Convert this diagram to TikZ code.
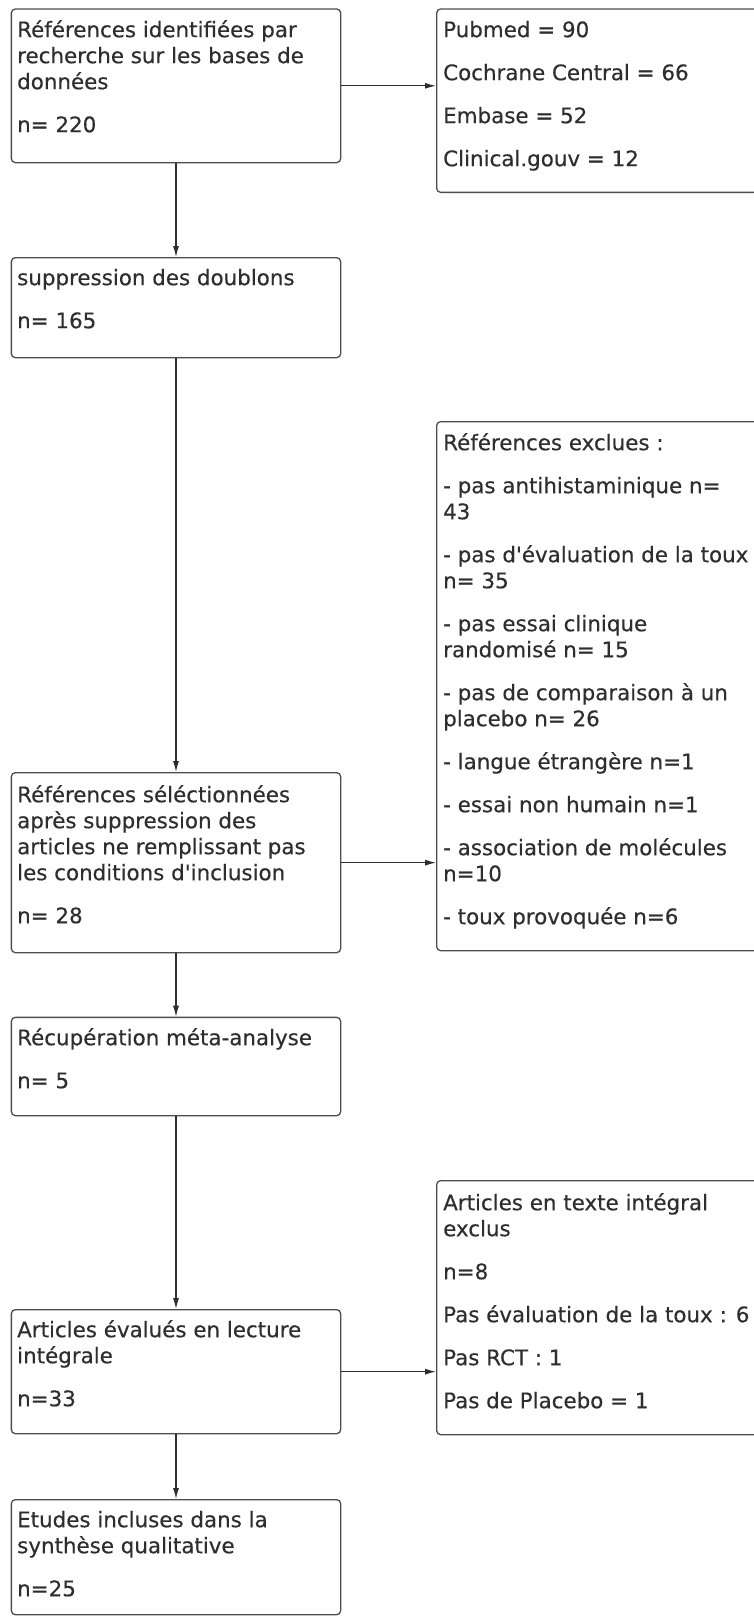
\documentclass[tikz,border=0pt]{standalone}
\usepackage{fontspec}
\newfontfamily\dv{DejaVu Sans}[FakeBold=0.35]
\usetikzlibrary{arrows.meta}
\definecolor{boxgray}{HTML}{4D4D4D}
\definecolor{linegray}{HTML}{2E2E2E}
\definecolor{textgray}{HTML}{2E2E2E}
\newcommand\fs{\rule{0pt}{20pt}}
\tikzset{
 box/.style={draw=boxgray, line width=1.3pt, rounded corners=4pt, inner sep=0pt, anchor=north west},
 txt/.style={anchor=north west, inner sep=0pt, align=left, text=textgray, font=\dv\fontsize{21.4}{26}\selectfont},
 arr/.style={draw=linegray, line width=1.1pt, -{Latex[length=11pt,width=6pt]}},
}
\begin{document}
\begin{tikzpicture}[x=1pt,y=-1pt]
\useasboundingbox[fill=white] (0,0) rectangle (753,1618);
% left column boxes
\node[box, minimum width=329.3pt, minimum height=153.7pt] (b1) at (10.7,8.3) {};
\node[box, minimum width=329.3pt, minimum height=100pt] (b2) at (10.7,257) {};
\node[box, minimum width=329.3pt, minimum height=180pt] (b4) at (10.7,772) {};
\node[box, minimum width=329.3pt, minimum height=98.3pt] (b5) at (10.7,1016.7) {};
\node[box, minimum width=329.3pt, minimum height=124pt] (b7) at (10.7,1309) {};
\node[box, minimum width=329.3pt, minimum height=115pt] (b8) at (10.7,1499) {};
% right column boxes
\node[box, minimum width=330pt, minimum height=183.4pt] (r1) at (436,8.3) {};
\node[box, minimum width=330pt, minimum height=529pt] (r3) at (436,421) {};
\node[box, minimum width=330pt, minimum height=254pt] (r6) at (436,1180) {};
% texts
\node[txt] (t1) at (17,17) {\fs Références identifiées par\\recherche sur les bases de\\données\\[17pt]n= 220};
\node[txt] (t2) at (17,265) {\fs suppression des doublons\\[17pt]n= 165};
\node[txt] (t4) at (17,782) {\fs Références séléctionnées\\après suppression des\\articles ne remplissant pas\\les conditions d'inclusion\\[17pt]n= 28};
\node[txt] (t5) at (17,1025) {\fs Récupération méta-analyse\\[17pt]n= 5};
\node[txt] (t7) at (17,1317) {\fs Articles évalués en lecture\\intégrale\\[17pt]n=33};
\node[txt] (t8) at (17,1507) {\fs Etudes incluses dans la\\synthèse qualitative\\[17pt]n=25};
\node[txt] (tr1) at (443,17) {\fs Pubmed = 90\\[17pt]Cochrane Central = 66\\[17pt]Embase = 52\\[17pt]Clinical.gouv = 12};
\node[txt] (tr3) at (443,430) {\fs Références exclues :\\[17pt]- pas antihistaminique n=\\43\\[17pt]- pas d'évaluation de la toux\\n= 35\\[17pt]- pas essai clinique\\randomisé n= 15\\[17pt]- pas de comparaison à un\\placebo n= 26\\[17pt]- langue étrangère n=1\\[17pt]- essai non humain n=1\\[17pt]- association de molécules\\n=10\\[17pt]- toux provoquée n=6};
\node[txt] (tr6) at (443,1190) {\fs Articles en texte intégral\\exclus\\[17pt]n=8\\[17pt]Pas évaluation de la toux : 6\\[17pt]Pas RCT : 1\\[17pt]Pas de Placebo = 1};
% connectors
\draw[arr] (b1.south) -- (b2.north);
\draw[arr] (b2.south) -- (b4.north);
\draw[arr] (b4.south) -- (b5.north);
\draw[arr] (b5.south) -- (b7.north);
\draw[arr] (b7.south) -- (b8.north);
\draw[arr] (b1.east) -- (b1.east -| r1.west);
\draw[arr] (b4.east) -- (b4.east -| r3.west);
\draw[arr] (b7.east) -- (b7.east -| r6.west);
\end{tikzpicture}
\end{document}
